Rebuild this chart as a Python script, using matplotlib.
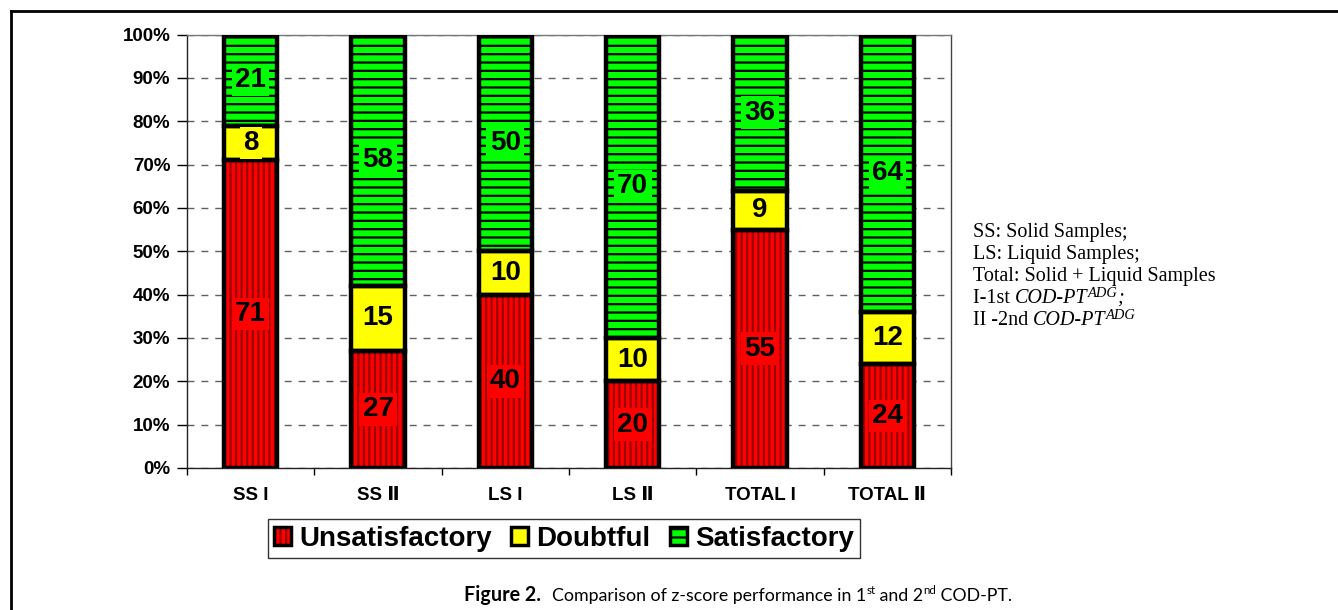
import numpy as np
import matplotlib
matplotlib.use("Agg")
import matplotlib.pyplot as plt
from matplotlib.patches import Patch
from matplotlib.legend_handler import HandlerTuple
from matplotlib.lines import Line2D

categories = ["SS I", "SS \u2161", "LS I", "LS \u2161", "TOTAL I", "TOTAL \u2161"]
unsatisfactory = [71, 27, 40, 20, 55, 24]
doubtful = [8, 15, 10, 10, 9, 12]
satisfactory = [21, 58, 50, 70, 36, 64]
yticks = [0, 10, 20, 30, 40, 50, 60, 70, 80, 90, 100]
series_names = ["Unsatisfactory", "Doubtful", "Satisfactory"]

notes = ["SS: Solid Samples;", "LS: Liquid Samples;", "Total: Solid + Liquid Samples"]

SANS = ["Liberation Sans", "DejaVu Sans"]
plt.rcParams["font.family"] = SANS
plt.rcParams["hatch.linewidth"] = 1.6

fig = plt.figure(figsize=(13.38, 6.10), dpi=100)
W, H = 1338, 610
ax = fig.add_axes([187 / W, 1 - 468 / H, (951 - 187) / W, (468 - 34.5) / H])

x = np.arange(len(categories))
width = 0.42
series = [np.array(unsatisfactory), np.array(doubtful), np.array(satisfactory)]
face = ["#FF0000", "#FFFF00", "#00FF00"]
hatch_col = ["#990000", None, "#000000"]
hatches = ["|||", None, "--"]
bottoms = np.zeros(len(categories))
for vals, fc, hc, hp in zip(series, face, hatch_col, hatches):
    if hp:
        ax.bar(x, vals, width, bottom=bottoms, color=fc, edgecolor=hc,
               hatch=hp, linewidth=0, zorder=2)
    else:
        ax.bar(x, vals, width, bottom=bottoms, color=fc, linewidth=0, zorder=2)
    ax.bar(x, vals, width, bottom=bottoms, fill=False, edgecolor="black",
           linewidth=3.2, zorder=3)
    for xi, b, v in zip(x, bottoms, vals):
        ax.text(xi, b + v / 2, str(v), ha="center", va="center",
                fontsize=20, fontweight="bold", zorder=4,
                bbox=dict(boxstyle="square,pad=0.12", facecolor=fc,
                          edgecolor="none"))
    bottoms = bottoms + vals

ax.set_xlim(-0.5, len(categories) - 0.5)
ax.set_ylim(0, 100)
ax.set_yticks(yticks)
ax.set_yticklabels([f"{t}%" for t in yticks], fontsize=13.5, fontweight="bold")
ax.set_xticks(x)
ax.set_xticklabels(categories, fontsize=13.5, fontweight="bold")
ax.set_xticks(np.arange(len(categories) + 1) - 0.5, minor=True)
ax.tick_params(axis="x", which="major", length=0, pad=14)
ax.tick_params(axis="x", which="minor", length=5, width=1, direction="out")
ax.tick_params(axis="y", length=7, width=1, direction="out", pad=5)
ax.yaxis.grid(True, linestyle=(0, (5, 5)), color="#606060", linewidth=1)
ax.set_axisbelow(True)
for s in ax.spines.values():
    s.set_linewidth(1)
    s.set_color("#222222")
ax.spines["top"].set_color("#777777")
ax.spines["right"].set_color("#444444")

# legend
def mk(i):
    if hatches[i]:
        h1 = Patch(facecolor=face[i], edgecolor=hatch_col[i], hatch=hatches[i], linewidth=0)
    else:
        h1 = Patch(facecolor=face[i], linewidth=0)
    h2 = Patch(fill=False, edgecolor="black", linewidth=2.5)
    return (h1, h2)

leg = fig.legend([mk(0), mk(1), mk(2)], series_names, ncol=3,
                 loc="center", bbox_to_anchor=(564 / W, 1 - 538.5 / H),
                 handler_map={tuple: HandlerTuple(ndivide=1, pad=0)},
                 prop=dict(family=SANS, weight="bold", size=20),
                 handlelength=0.6, handleheight=0.6, handletextpad=0.3,
                 columnspacing=0.7, borderpad=0.22, fancybox=False,
                 frameon=True, edgecolor="black", borderaxespad=0)
leg.get_frame().set_linewidth(1.0)

# notes on the right (Times-like)
SERIF = ["Liberation Serif", "DejaVu Serif"]
fs = 14.5
baselines = [237, 259, 281, 303, 325]
for txt, yb in zip(notes, baselines[:3]):
    fig.text(973 / W, 1 - yb / H, txt, fontsize=fs, family=SERIF, va="baseline", ha="left")

fig.canvas.draw()
renderer = fig.canvas.get_renderer()


def build(pieces, x0, yb):
    # pieces: list of (text, kwargs, rise_points); each piece follows the previous one
    xpix = x0 * W
    for s, kw, dy in pieces:
        t = fig.text(xpix / W, yb + dy / 72 * 100 / H, s, va="baseline", ha="left", **kw)
        bb = t.get_window_extent(renderer=renderer)
        xpix = bb.x1
    return xpix


sup = dict(fontsize=fs * 0.72, family=SERIF, style="italic")
build([("I-1st ", dict(fontsize=fs, family=SERIF), 0),
       ("COD-PT", dict(fontsize=fs, family=SERIF, style="italic"), 0),
       ("ADG", sup, 4.5),
       (";", dict(fontsize=fs, family=SERIF, style="italic"), 0)],
      973 / W, 1 - baselines[3] / H)
build([("II -2nd ", dict(fontsize=fs, family=SERIF), 0),
       ("COD-PT", dict(fontsize=fs, family=SERIF, style="italic"), 0),
       ("ADG", sup, 4.5)],
      973 / W, 1 - baselines[4] / H)

# caption
CAP = ["Lato", "DejaVu Sans"]
cfs = 12.8
csup = dict(fontsize=cfs * 0.65, family=CAP)
fig.text(541 / W, 1 - 601 / H, "Figure 2.", fontsize=14.2, family=CAP,
         weight="bold", va="baseline", ha="right")
build([("Comparison of z-score performance in 1", dict(fontsize=cfs, family=CAP), 0),
       ("st", csup, 5.0),
       (" and 2", dict(fontsize=cfs, family=CAP), 0),
       ("nd", csup, 5.0),
       (" COD-PT.", dict(fontsize=cfs, family=CAP), 0)],
      552 / W, 1 - 601 / H)

# page frame (left and top rules)
fig.add_artist(Line2D([10.5 / W, 10.5 / W], [0, 1 - 10.5 / H], transform=fig.transFigure,
                      color="black", linewidth=2))
fig.add_artist(Line2D([10.5 / W, 1], [1 - 10.5 / H, 1 - 10.5 / H], transform=fig.transFigure,
                      color="black", linewidth=2))

fig.savefig("out.png", dpi=100)
